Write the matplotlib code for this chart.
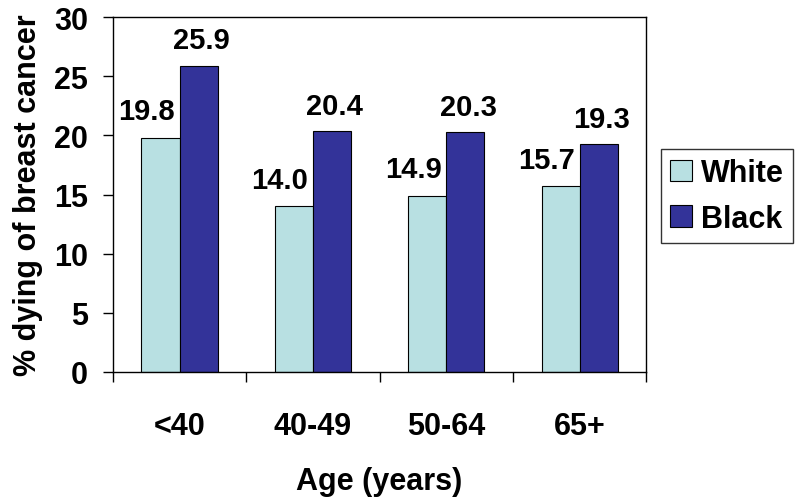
import numpy as np
import matplotlib.pyplot as plt

plt.rcParams['font.family'] = ['Liberation Sans', 'DejaVu Sans']
plt.rcParams['font.weight'] = 'bold'

categories = ['<40', '40-49', '50-64', '65+']
white = [19.8, 14.0, 14.9, 15.7]
black = [25.9, 20.4, 20.3, 19.3]

fig = plt.figure(figsize=(8, 5.02), dpi=100)
ax = fig.add_axes([0.141, 0.257, 0.667, 0.707])

x = np.arange(len(categories))
w = 0.285
b1 = ax.bar(x - w / 2, white, w, color='#B8E0E2', edgecolor='black', linewidth=0.8, label='White')
b2 = ax.bar(x + w / 2, black, w, color='#333399', edgecolor='black', linewidth=0.8, label='Black')

# etiquetas de valor
for xi, v in zip(x, white):
    ax.annotate(f'{v:.1f}', (xi - w / 2, v), xytext=(-10, 9), textcoords='offset points',
                ha='center', va='bottom', fontsize=21, fontweight='bold')
for xi, v in zip(x, black):
    ax.annotate(f'{v:.1f}', (xi + w / 2, v), xytext=(2, 8), textcoords='offset points',
                ha='center', va='bottom', fontsize=21, fontweight='bold')

ax.set_xlim(-0.5, len(categories) - 0.5)
ax.set_ylim(0, 30)
ax.set_yticks(range(0, 31, 5))
ax.tick_params(axis='y', labelsize=22, length=7, width=1, direction='out', pad=11)

ax.set_xticks(np.arange(-0.5, len(categories), 1))
ax.set_xticklabels([])
ax.set_xticks(x, minor=True)
ax.set_xticklabels(categories, minor=True, fontsize=22, fontweight='bold')
ax.tick_params(axis='x', which='major', length=7, width=1, direction='out')
ax.tick_params(axis='x', which='minor', length=0, pad=28)

for s in ax.spines.values():
    s.set_linewidth(1)

ax.set_xlabel('Age (years)', fontsize=22, fontweight='bold', labelpad=18)
ax.set_ylabel('% dying of breast cancer', fontsize=22, fontweight='bold', labelpad=8)

leg = fig.legend(handles=[b1, b2], loc='upper left', bbox_to_anchor=(0.826, 0.701),
                 fontsize=22, frameon=True, fancybox=False, edgecolor='black',
                 handlelength=0.72, handleheight=0.72, handletextpad=0.3,
                 borderpad=0.3, borderaxespad=0, labelspacing=0.5)
leg.get_frame().set_linewidth(1)

plt.savefig('out.png', dpi=100)
